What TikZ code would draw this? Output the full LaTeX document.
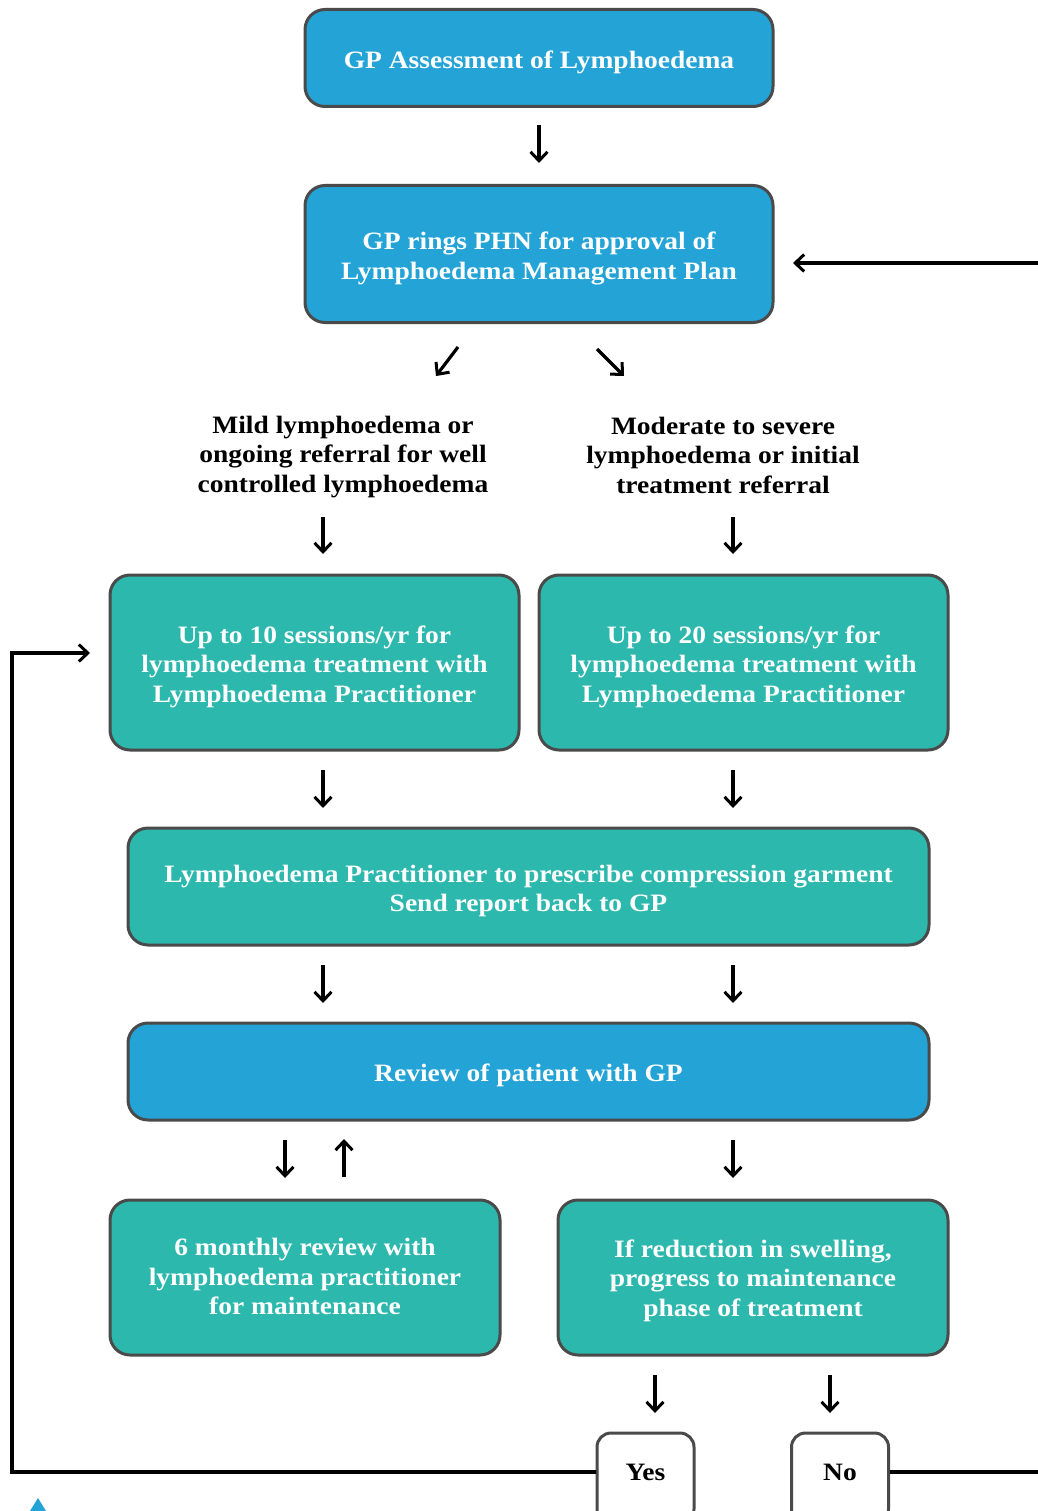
\documentclass[tikz,border=0pt]{standalone}
\usepackage{fontspec}
\setmainfont[FakeStretch=1.1]{Liberation Serif}
\usetikzlibrary{arrows.meta}
\definecolor{gpblue}{HTML}{23A3D6}
\definecolor{lpteal}{HTML}{2DB8AE}
\definecolor{boxline}{HTML}{4A4A4A}
\newcommand{\boxlines}[2][4.5pt]{\raisebox{-#1}[\height][\depth]{\begin{tabular}{@{}c@{}}#2\end{tabular}}}
\begin{document}
\begin{tikzpicture}[x=1pt, y=-1pt,
		box/.style={draw=boxline, line width=3pt, rounded corners=20pt,
			text=white, font=\fontsize{25}{29.5}\selectfont\bfseries, inner sep=0pt},
		bluebox/.style={box, fill=gpblue},
		tealbox/.style={box, fill=lpteal},
		answer/.style={draw=boxline, line width=3pt, rounded corners=14pt, fill=white,
			minimum width=97pt, minimum height=90pt, inner sep=0pt},
		plain/.style={align=center, font=\fontsize{25}{29.5}\selectfont\bfseries, inner sep=0pt},
		flow/.style={line width=3.2pt, -{Straight Barb[length=9pt, width=17pt, line width=3pt]}}]
	\useasboundingbox (0,0) rectangle (1037,1511);

	\node[bluebox, minimum width=468pt, minimum height=97pt] (assess) at (539, 58) {\boxlines{GP Assessment of Lymphoedema}};
	\node[bluebox, minimum width=468pt, minimum height=137pt] (approve) at (539,254) {\boxlines{GP rings PHN for approval of\\Lymphoedema Management Plan}};
	\node[plain] (mild) at (343,457) {Mild lymphoedema or\\ongoing referral for well\\controlled lymphoedema};
	\node[plain] (severe) at (723,455) {Moderate to severe\\lymphoedema or initial\\treatment referral};
	\node[tealbox, minimum width=409pt, minimum height=175pt] (ten) at (314.5,662.5) {\boxlines{Up to 10 sessions/yr for\\lymphoedema treatment with\\Lymphoedema Practitioner}};
	\node[tealbox, minimum width=409pt, minimum height=175pt] (twenty) at (743.5,662.5) {\boxlines{Up to 20 sessions/yr for\\lymphoedema treatment with\\Lymphoedema Practitioner}};
	\node[tealbox, minimum width=801pt, minimum height=117pt] (garment) at (528.5,886.5) {\boxlines{Lymphoedema Practitioner to prescribe compression garment\\Send report back to GP}};
	\node[bluebox, minimum width=801pt, minimum height=97pt] (review) at (528.5,1071.5) {\boxlines{Review of patient with GP}};
	\node[tealbox, minimum width=390pt, minimum height=155pt] (sixmonth) at (305,1277.5) {\boxlines[2pt]{6 monthly review with\\lymphoedema practitioner\\for maintenance}};
	\node[tealbox, minimum width=390pt, minimum height=155pt] (reduction) at (753,1277.5) {\boxlines[3.5pt]{If reduction in swelling,\\progress to maintenance\\phase of treatment}};
	\node[answer] (yes) at (645.5,1478) {};
	\node[answer] (no) at (840,1478) {};
	\node[plain] (yeslabel) at (645.5,1472) {Yes};
	\node[plain] (nolabel) at (840,1472) {No};

	\coordinate (loopL) at (12,1472);
	\coordinate (loopT) at (12,653);
	\coordinate (into10) at (90,653);
	\coordinate (edgeR) at (1040,1472);
	\coordinate (backR) at (1040,263);
	\coordinate (intoPlan) at (793,263);

	\draw[flow] (539,125) -- (539,163);
	\draw[flow] (458,347) -- (436,376);
	\draw[flow] (597,349) -- (624,376);
	\draw[flow] (323,517) -- (323,554);
	\draw[flow] (733,517) -- (733,554);
	\draw[flow] (323,770) -- (323,808);
	\draw[flow] (733,770) -- (733,808);
	\draw[flow] (323,965) -- (323,1003);
	\draw[flow] (733,965) -- (733,1003);
	\draw[flow] (285,1140) -- (285,1178);
	\draw[flow] (344,1177) -- (344,1139);
	\draw[flow] (733,1140) -- (733,1178);
	\draw[flow] (655,1375) -- (655,1413);
	\draw[flow] (830,1375) -- (830,1413);

	\draw[flow] (backR) -- (intoPlan);
	\draw[flow] (yes.west |- loopL) -- (loopL) -- (loopT) -- (into10);
	\draw[line width=3.2pt] (no.east |- edgeR) -- (edgeR);

	\fill[gpblue] (30,1511) -- (38,1498) -- (46,1511) -- cycle;
\end{tikzpicture}
\end{document}
